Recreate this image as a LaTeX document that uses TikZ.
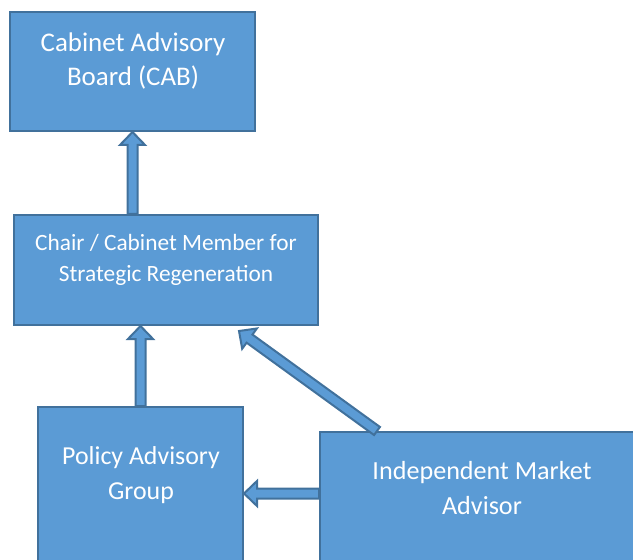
\documentclass[tikz,border=0pt]{standalone}
\usepackage{fontspec}
\setmainfont{Carlito}
\usetikzlibrary{calc}

\definecolor{boxblue}{RGB}{91,155,213}
\definecolor{edgeblue}{RGB}{65,113,156}

\tikzset{every picture/.style={line width=0.75pt}}
\tikzset{
  orgbox/.style={draw=edgeblue, fill=boxblue, line width=1.5pt, inner sep=0pt},
  orgtext/.style={text=white, align=center, inner sep=0.75pt},
  blockline/.style={draw=edgeblue, fill=boxblue, line width=1.5pt, line join=miter}
}

% block arrow from #1 to #2 (tip at #2)
\newcommand{\blockarrow}[2]{%
  \coordinate (ba-s) at (#1);
  \coordinate (ba-e) at (#2);
  \coordinate (ba-h) at ($(ba-e)!9.75pt!(ba-s)$);
  \draw[blockline] ($(ba-s)!3.75pt!90:(ba-e)$) -- ($(ba-h)!3.75pt!90:(ba-e)$)
    -- ($(ba-h)!9.4pt!90:(ba-e)$) -- (ba-e) -- ($(ba-h)!9.4pt!-90:(ba-e)$)
    -- ($(ba-h)!3.75pt!-90:(ba-e)$) -- ($(ba-s)!3.75pt!-90:(ba-e)$) -- cycle;
}

\begin{document}
\begin{tikzpicture}[x=0.75pt,y=0.75pt,yscale=-1,xscale=1]
\clip (0,0) rectangle (633,560);

% Boxes
\node [orgbox, minimum width=183.75pt, minimum height=89.25pt] (cab) at (132.5,71.5) {};
\node [orgbox, minimum width=228pt, minimum height=82.5pt] (chair) at (166,270) {};
\node [orgbox, minimum width=153.75pt, minimum height=129.75pt] (policy) at (140.5,493.5) {};
\node [orgbox, minimum width=243pt, minimum height=118.5pt] (indep) at (482,511) {};

% Text Node
\node [orgtext, font=\fontsize{20.2}{25.5}\selectfont] (cabtext) at (133,61) {Cabinet Advisory\\Board (CAB)};
% Text Node
\node [orgtext, font=\fontsize{17.5}{23.25}\selectfont] (chairtext) at (166,260) {Chair / Cabinet Member for\\Strategic Regeneration};
% Text Node
\node [orgtext, font=\fontsize{19.4}{26}\selectfont] (policytext) at (141,475) {Policy Advisory\\Group};
% Text Node
\node [orgtext, font=\fontsize{19.6}{26}\selectfont] (indeptext) at (482,488) {Independent Market\\Advisor};

% Arrows
\blockarrow{chair.north -| cab.south}{cab.south}
\blockarrow{policy.north}{policy.north |- chair.south}
\blockarrow{$(indep.north west)+(58,0)$}{$(chair.south east)+(-80,5)$}
\blockarrow{indep.west |- policy.east}{policy.east}

\end{tikzpicture}
\end{document}
